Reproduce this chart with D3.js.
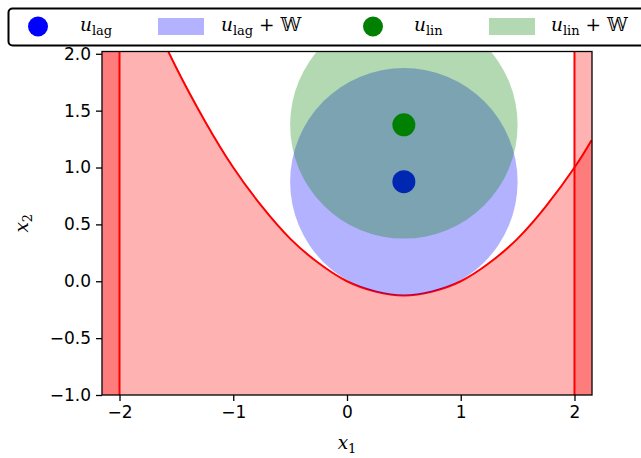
<!DOCTYPE html>
<html>
<head>
<meta charset="utf-8">
<script src="https://cdn.jsdelivr.net/npm/d3@7"></script>
<style>
  body { margin: 0; background: #fff; }
  svg { display: block; }
</style>
</head>
<body>
<script>
// data
var curveX = [-2.15, -2.0, -1.75, -1.5, -1.25, -1.0, -0.75, -0.5, -0.25, 0, 0.25, 0.5, 0.75, 1.0, 1.25, 1.5, 1.75, 2.0, 2.15];
var curveY = [3.39, 3.0, 2.41, 1.875, 1.41, 1.0, 0.66, 0.375, 0.16, 0.0, -0.09, -0.125, -0.09, 0.0, 0.16, 0.375, 0.66, 1.0, 1.24];
var boundX = [-2, 2];
var uLag = [0.5, 0.875];
var uLin = [0.5, 1.375];
var wRadius = 1.0;
var xTicks = [-2, -1, 0, 1, 2];
var yTicks = [-1.0, -0.5, 0.0, 0.5, 1.0, 1.5, 2.0];
var xDomain = [-2.154, 2.154];
var yDomain = [-1, 2.02];

// set the dimensions and margins of the graph
var W = 641, H = 458;
var margin = { top: 51.5, right: 49, bottom: 63, left: 102 },
    width = W - margin.left - margin.right,
    height = H - margin.top - margin.bottom;

var svg = d3.select("body").append("svg")
    .attr("width", W)
    .attr("height", H);

var x = d3.scaleLinear().domain(xDomain).range([0, width]);
var y = d3.scaleLinear().domain(yDomain).range([height, 0]);

var g = svg.append("g")
    .attr("transform", "translate(" + margin.left + "," + margin.top + ")");

g.append("clipPath").attr("id", "plotclip")
  .append("rect").attr("width", width).attr("height", height);

var plot = g.append("g").attr("clip-path", "url(#plotclip)");

var pts = curveX.map(function (d, i) { return [d, curveY[i]]; });

// region below the curve
plot.append("path")
    .datum(pts)
    .attr("fill", "red")
    .attr("fill-opacity", 0.3)
    .attr("d", d3.area()
        .x(function (d) { return x(d[0]); })
        .y0(y(yDomain[0]))
        .y1(function (d) { return y(d[1]); })
        .curve(d3.curveNatural));

// regions outside the x bounds
plot.append("rect")
    .attr("x", x(xDomain[0])).attr("y", 0)
    .attr("width", x(boundX[0]) - x(xDomain[0])).attr("height", height)
    .attr("fill", "red").attr("fill-opacity", 0.3);
plot.append("rect")
    .attr("x", x(boundX[1])).attr("y", 0)
    .attr("width", x(xDomain[1]) - x(boundX[1])).attr("height", height)
    .attr("fill", "red").attr("fill-opacity", 0.3);

plot.append("path")
    .datum(pts)
    .attr("fill", "none")
    .attr("stroke", "red")
    .attr("stroke-width", 2)
    .attr("d", d3.line()
        .x(function (d) { return x(d[0]); })
        .y(function (d) { return y(d[1]); })
        .curve(d3.curveNatural));

plot.selectAll(".bound").data(boundX).enter().append("line")
    .attr("x1", function (d) { return x(d); })
    .attr("x2", function (d) { return x(d); })
    .attr("y1", 0).attr("y2", height)
    .attr("stroke", "red").attr("stroke-width", 2);

function tube(c, color) {
    plot.append("ellipse")
        .attr("cx", x(c[0])).attr("cy", y(c[1]))
        .attr("rx", x(wRadius) - x(0)).attr("ry", y(0) - y(wRadius))
        .attr("fill", color).attr("fill-opacity", 0.3);
}
function dot(c, color) {
    plot.append("circle")
        .attr("cx", x(c[0])).attr("cy", y(c[1]))
        .attr("r", 11.5).attr("fill", color);
}
tube(uLag, "blue");
dot(uLag, "blue");
tube(uLin, "green");
dot(uLin, "green");

// axes
var fmt = function (d) { return d3.format(".1f")(d).replace("-", "\u2212"); };
var xAxis = g.append("g")
    .attr("transform", "translate(0," + height + ")")
    .call(d3.axisBottom(x).tickValues(xTicks).tickSize(6).tickPadding(5)
        .tickFormat(function (d) { return String(d).replace("-", "\u2212"); }));
var yAxis = g.append("g")
    .call(d3.axisLeft(y).tickValues(yTicks).tickSize(6).tickPadding(5).tickFormat(fmt));

[xAxis, yAxis].forEach(function (a) {
    a.select(".domain").remove();
    a.selectAll(".tick line").attr("stroke", "#000").attr("stroke-width", 1.3);
    a.selectAll(".tick text")
        .attr("fill", "#000")
        .style("font-family", "'DejaVu Sans', sans-serif")
        .style("font-size", "17px");
});

g.append("rect")
    .attr("width", width).attr("height", height)
    .attr("fill", "none").attr("stroke", "#000").attr("stroke-width", 1.3);

// axis labels
var serif = "'DejaVu Serif', 'Liberation Serif', serif";
function mathLabel(sel, main, sub, extra) {
    sel.style("font-family", serif).style("font-size", "18.5px").attr("fill", "#000");
    sel.append("tspan").style("font-style", "italic").text(main);
    sel.append("tspan").attr("dy", 4).style("font-size", "13px").text(sub);
    if (extra) {
        sel.append("tspan").attr("dy", -4).text(extra);
    }
    return sel;
}

mathLabel(svg.append("text").attr("x", margin.left + x(0)).attr("y", 449)
    .attr("text-anchor", "middle"), "x", "1");
mathLabel(svg.append("text")
    .attr("transform", "translate(28," + (margin.top + height / 2) + ") rotate(-90)")
    .attr("text-anchor", "middle"), "x", "2");

// legend
var legend = svg.append("g");
legend.append("rect")
    .attr("x", 8.5).attr("y", 8.5).attr("width", 640).attr("height", 37)
    .attr("rx", 4).attr("fill", "#fff").attr("stroke", "#000").attr("stroke-width", 2);

var legendItems = [
    { kind: "dot", color: "blue", sub: "lag", extra: null, mx: 38, tx: 80 },
    { kind: "patch", color: "blue", sub: "lag", extra: " + \uD835\uDD4E", mx: 158, tx: 221 },
    { kind: "dot", color: "green", sub: "lin", extra: null, mx: 373, tx: 414 },
    { kind: "patch", color: "green", sub: "lin", extra: " + \uD835\uDD4E", mx: 489, tx: 551 }
];
legendItems.forEach(function (d) {
    if (d.kind === "dot") {
        legend.append("circle").attr("cx", d.mx).attr("cy", 26.5).attr("r", 10).attr("fill", d.color);
    } else {
        legend.append("rect").attr("x", d.mx).attr("y", 18).attr("width", 46).attr("height", 17)
            .attr("fill", d.color).attr("fill-opacity", 0.3);
    }
    mathLabel(legend.append("text").attr("x", d.tx).attr("y", 31), "u", d.sub, d.extra);
});
</script>
</body>
</html>
